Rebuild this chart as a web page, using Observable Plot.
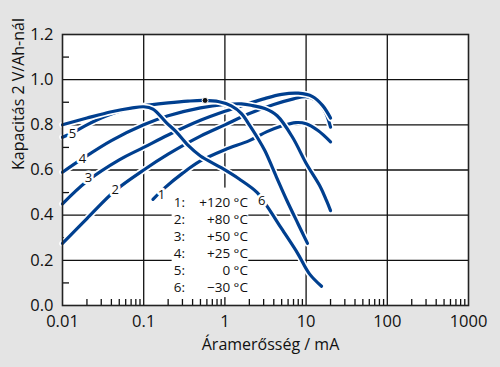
<!DOCTYPE html>
<html><head><meta charset="utf-8">
<script src="https://cdn.jsdelivr.net/npm/d3@7"></script>
<script src="https://cdn.jsdelivr.net/npm/@observablehq/plot@0.6"></script>
<style>
html,body{margin:0;padding:0;background:#e4e4e4;}
</style></head><body><div id="chart"></div>
<script>
// Curve data: current (mA) and capacity to 2 V per Ah
const curr1 = [0.13, 0.18, 0.3, 0.5, 1, 2, 3.3, 5, 7.5, 10, 14, 20];
const cap1  = [0.47, 0.52, 0.585, 0.64, 0.69, 0.73, 0.77, 0.795, 0.81, 0.805, 0.775, 0.725];
const curr2 = [0.01, 0.02, 0.045, 0.1, 0.2, 0.5, 1, 2, 4, 7, 10, 13, 17, 20];
const cap2  = [0.275, 0.385, 0.51, 0.60, 0.67, 0.75, 0.80, 0.85, 0.89, 0.915, 0.925, 0.91, 0.86, 0.79];
const curr3 = [0.01, 0.02, 0.05, 0.1, 0.2, 0.5, 1, 2, 3, 5, 8, 12, 16, 20];
const cap3  = [0.45, 0.55, 0.645, 0.70, 0.755, 0.82, 0.86, 0.895, 0.915, 0.935, 0.94, 0.925, 0.885, 0.83];
const curr4 = [0.01, 0.0176, 0.04, 0.1, 0.2, 0.5, 1, 1.6, 2.2, 3.1, 4.4, 6.8, 10, 15, 17.8, 20];
const cap4  = [0.59, 0.65, 0.73, 0.80, 0.84, 0.875, 0.89, 0.893, 0.885, 0.872, 0.84, 0.745, 0.63, 0.525, 0.465, 0.42];
const curr5 = [0.01, 0.0133, 0.02, 0.035, 0.06, 0.1, 0.2, 0.35, 0.55, 0.85, 1.2, 1.6, 2.0, 2.5, 3.1, 4.3, 5.8, 8, 10.4];
const cap5  = [0.745, 0.765, 0.80, 0.84, 0.868, 0.884, 0.897, 0.905, 0.908, 0.902, 0.884, 0.85, 0.80, 0.745, 0.686, 0.57, 0.465, 0.36, 0.275];
const curr6 = [0.01, 0.02, 0.04, 0.07, 0.1, 0.13, 0.19, 0.25, 0.35, 0.5, 0.9, 1.5, 2.5, 3.3, 5, 7.9, 11, 15.5];
const cap6  = [0.80, 0.83, 0.858, 0.874, 0.88, 0.87, 0.81, 0.77, 0.71, 0.662, 0.61, 0.56, 0.50, 0.44, 0.34, 0.23, 0.14, 0.085];

const curveCurr = [curr1, curr2, curr3, curr4, curr5, curr6];
const curveCap  = [cap1, cap2, cap3, cap4, cap5, cap6];

// Curve number labels
const labelText = ["1", "2", "3", "4", "5", "6"];
const labelCurr = [0.165, 0.0447, 0.0209, 0.0176, 0.0133, 2.85];
const labelCap  = [0.49, 0.514, 0.567, 0.651, 0.762, 0.465];

// Marked point
const dotCurr = [0.57];
const dotCap  = [0.908];

// Legend
const legendNum  = ["1:", "2:", "3:", "4:", "5:", "6:"];
const legendTemp = ["+120 °C", "+80 °C", "+50 °C", "+25 °C", "0 °C", "\u221230 °C"];

// Axes
const xTicks = [0.01, 0.1, 1, 10, 100, 1000];
const xTickLabels = ["0.01", "0.1", "1", "10", "100", "1000"];
const yTicks = [0, 0.2, 0.4, 0.6, 0.8, 1.0, 1.2];
const yTickLabels = ["0.0", "0.2", "0.4", "0.6", "0.8", "1.0", "1.2"];
const yMinor = [0.1, 0.3, 0.5, 0.7, 0.9, 1.1];
const xMinor = [];
for (const dec of [0.01, 0.1, 1, 10, 100]) for (let k = 2; k <= 9; k++) xMinor.push(+(dec * k).toPrecision(3));
const xGrid = [0.1, 1, 10, 100];
const yGrid = [0.2, 0.4, 0.6, 0.8, 1.0];

const blue = "#003f8f";
const font = "Open Sans";

const curveMarks = [];
curveCurr.forEach((cx, i) => {
  const cy = curveCap[i];
  curveMarks.push(Plot.line(cy, {x: cx, y: cy, stroke: "white", strokeWidth: 6.5, curve: "catmull-rom"}));
  curveMarks.push(Plot.line(cy, {x: cx, y: cy, stroke: blue, strokeWidth: 3.2, curve: "catmull-rom"}));
});

const legendTop = 0.456, legendStep = 0.0755;

const chart = Plot.plot({
  width: 500,
  height: 367,
  marginLeft: 62,
  marginRight: 32,
  marginTop: 34,
  marginBottom: 62,
  style: {background: "#e4e4e4", fontFamily: font, color: "#111"},
  x: {type: "log", domain: [0.01, 1000]},
  y: {domain: [0, 1.2]},
  marks: [
    Plot.frame({fill: "white", stroke: null}),
    Plot.ruleY(yGrid, {stroke: "#111", strokeWidth: 1.3}),
    Plot.ruleX(xGrid, {stroke: "#111", strokeWidth: 1.3}),
    Plot.axisX(xMinor, {tickSize: -6, tickFormat: () => "", stroke: "#111", strokeWidth: 1.3, label: null}),
    Plot.axisY(yMinor, {tickSize: -7, tickFormat: () => "", stroke: "#111", strokeWidth: 1.3, label: null}),
    Plot.axisX(xTicks, {tickSize: 0, tickPadding: 10, tickFormat: (d) => xTickLabels[xTicks.indexOf(d)], fontSize: 16.5, fill: "#111", label: null}),
    Plot.axisY(yTicks, {tickSize: 0, tickPadding: 9, tickFormat: (d) => yTickLabels[yTicks.indexOf(d)], fontSize: 16.5, fill: "#111", label: null}),
    Plot.rect([0], {x1: 0.224, x2: 1.97, y1: 0.035, y2: 0.52, fill: "white"}),
    ...curveMarks,
    Plot.dot(dotCurr, {x: dotCurr, y: dotCap, r: 3, fill: "#111", stroke: "white", strokeWidth: 1}),
    Plot.text(labelText, {x: labelCurr, y: labelCap, text: labelText, fontSize: 13, fill: "#111", stroke: "white", strokeWidth: 5}),
    Plot.text(legendNum, {x: 0.235, y: (d, i) => legendTop - i * legendStep, text: d => d, textAnchor: "start", fontSize: 13.5, fill: "#111"}),
    Plot.text(legendTemp, {x: 1.92, y: (d, i) => legendTop - i * legendStep, text: d => d, textAnchor: "end", fontSize: 13.5, fill: "#111"}),
    Plot.frame({stroke: "#222", strokeWidth: 1.6}),
    Plot.text(["Kapacitás 2 V/Ah-nál"], {frameAnchor: "left", dx: -44, rotate: -90, text: d => d, fontSize: 16, fill: "#111"}),
    Plot.text(["Áramerősség / mA"], {frameAnchor: "bottom", dx: 5, dy: 44, text: d => d, fontSize: 16, fill: "#111"})
  ]
});
document.getElementById("chart").appendChild(chart);
</script>
</body></html>
